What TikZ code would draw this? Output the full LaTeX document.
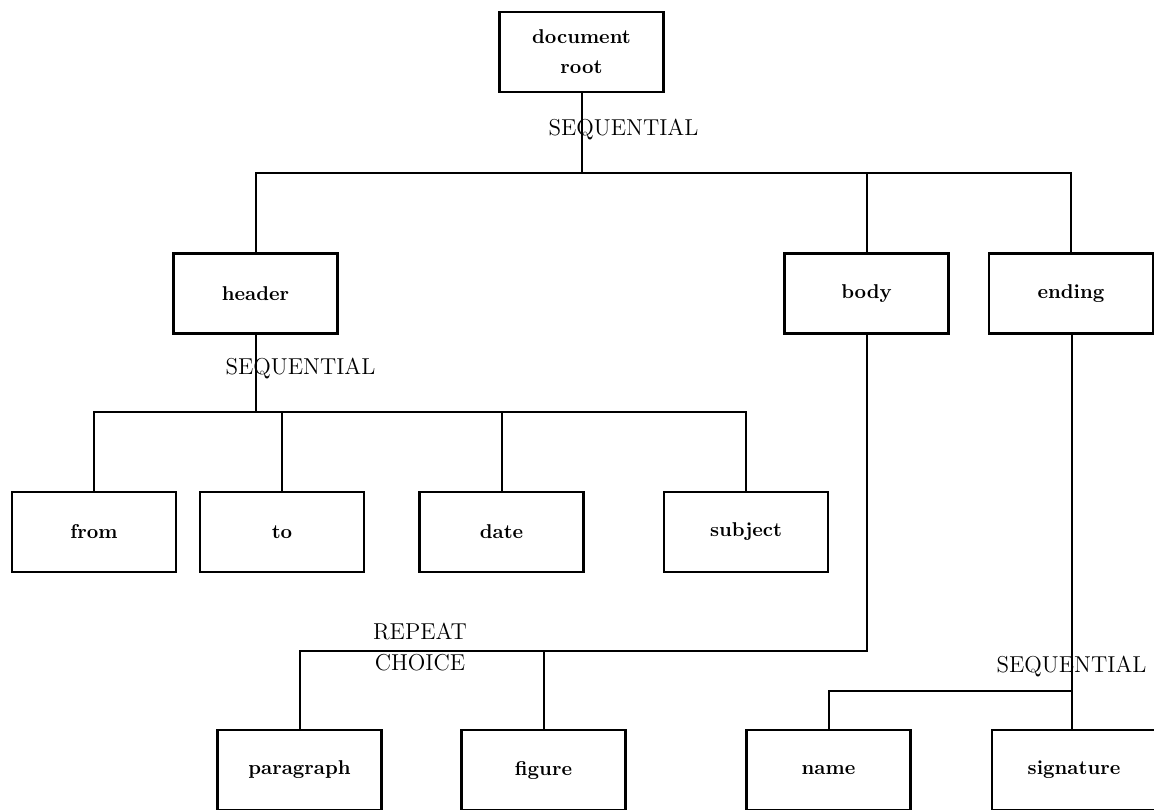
\documentclass[tikz,border=0pt]{standalone}
\begin{document}
\begin{tikzpicture}[x=0.5pt,y=-0.5pt,
  elem/.style={draw,line width=1.1pt,minimum width=82pt,minimum height=40pt,
    inner sep=0pt,outer sep=0pt,font=\bfseries\fontsize{10}{15}\selectfont,align=center},
  link/.style={line width=1pt},
  kind/.style={font=\fontsize{11.5}{14}\selectfont,inner sep=0pt}]
\useasboundingbox (0,0) rectangle (1154,809);

% level 0
\node[elem] (root) at (581.5,52) {document\\root};
% level 1
\node[elem] (header) at (255.5,293.5) {header};
\node[elem] (body)   at (866.5,293.5) {body};
\node[elem] (ending) at (1071,293.5) {ending};
% header parts
\node[elem] (from)    at (94,532)    {from};
\node[elem] (to)      at (282,532)   {to};
\node[elem] (date)    at (501.5,532) {date};
\node[elem] (subject) at (746,532)   {subject};
% body parts
\node[elem] (para)   at (299.5,770) {paragraph};
\node[elem] (figure) at (543.5,770) {figure};
% ending parts
\node[elem] (name) at (828.5,770) {name};
\node[elem] (sig)  at (1074,770)  {signature};

% branch points
\coordinate (j0) at (581.5,173);
\coordinate (j1) at (255.5,412);
\coordinate (j2) at (866.5,651);
\coordinate (j3) at (1072,691);

% root -> header, body, ending
\draw[link] (root.south) -- (j0);
\draw[link] (header.north) |- (j0) -| (ending.north);
\draw[link] (body.north) -- (body.north |- j0);
\node[kind] (s0) at (623.5,130) {SEQUENTIAL};

% header -> from, to, date, subject
\draw[link] (header.south) -- (j1);
\draw[link] (from.north) |- (j1) -| (subject.north);
\draw[link] (to.north) -- (to.north |- j1);
\draw[link] (date.north) -- (date.north |- j1);
\node[kind] (s1) at (300.5,368.5) {SEQUENTIAL};

% body -> paragraph, figure
\draw[link] (body.south) -- (j2) -| (para.north);
\draw[link] (figure.north) -- (figure.north |- j2);
\node[kind] (r2) at (420,632) {REPEAT};
\node[kind] (c2) at (420,663) {CHOICE};

% ending -> name, signature
\draw[link] (ending.south -| j3) -- (sig.north -| j3);
\draw[link] (name.north) |- (j3);
\node[kind] (s3) at (1071.5,667) {SEQUENTIAL};
\end{tikzpicture}
\end{document}
